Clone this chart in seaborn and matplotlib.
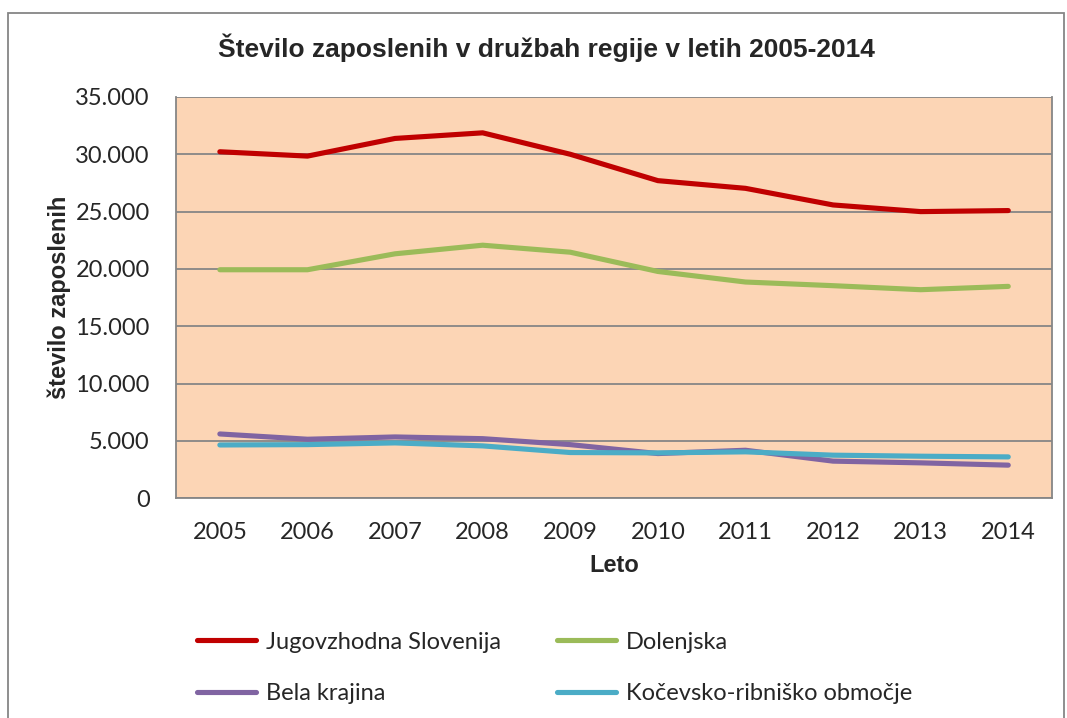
"""Število zaposlenih v družbah regije v letih 2005-2014."""

import matplotlib
matplotlib.use("Agg")

import matplotlib.pyplot as plt
import matplotlib.ticker as mticker
from matplotlib.patches import Rectangle
import pandas as pd
import seaborn as sns


years = [2005, 2006, 2007, 2008, 2009, 2010, 2011, 2012, 2013, 2014]
jugovzhodna = [30220, 29840, 31380, 31870, 30000, 27700, 27030, 25580, 25000, 25090]
dolenjska = [19930, 19930, 21320, 22070, 21460, 19780, 18860, 18540, 18190, 18480]
bela_krajina = [5610, 5150, 5350, 5200, 4680, 3900, 4190, 3240, 3090, 2890]
kocevsko = [4650, 4680, 4830, 4570, 3990, 3960, 4050, 3760, 3670, 3610]

series_names = ["Jugovzhodna Slovenija", "Dolenjska", "Bela krajina",
                "Kočevsko-ribniško območje"]
series_values = [jugovzhodna, dolenjska, bela_krajina, kocevsko]
colors = ["#C00000", "#9BBB59", "#8064A2", "#4BACC6"]


def build_dataframe():
    rows = []
    for name, values in zip(series_names, series_values):
        for i, (year, value) in enumerate(zip(years, values)):
            rows.append({"pos": i, "leto": year, "regija": name, "zaposleni": value})
    return pd.DataFrame(rows)


def main():
    sns.set_theme(style="white")
    plt.rcParams["font.family"] = ["Lato", "DejaVu Sans"]

    df = build_dataframe()

    fig = plt.figure(figsize=(10.67, 7.18), dpi=100)
    ax = fig.add_axes([0.165, 0.306, 0.821, 0.559])
    ax.set_facecolor("#FCD5B5")

    sns.lineplot(data=df, x="pos", y="zaposleni", hue="regija",
                 hue_order=series_names, palette=colors, linewidth=3.7,
                 ax=ax, legend=False)

    ax.set_xlim(-0.5, len(years) - 0.5)
    ax.set_ylim(0, 35000)
    ax.set_xticks(range(len(years)))
    ax.set_xticklabels([str(y) for y in years])
    ax.yaxis.set_major_locator(mticker.MultipleLocator(5000))
    ax.yaxis.set_major_formatter(
        mticker.FuncFormatter(lambda v, _: f"{int(v):,}".replace(",", ".")))
    ax.tick_params(axis="both", labelsize=17, length=0)
    ax.tick_params(axis="x", pad=17)
    ax.tick_params(axis="y", pad=19)
    ax.grid(axis="y", color="#868686", linewidth=1.3)
    ax.set_axisbelow(True)
    for side in ["left", "bottom", "right"]:
        ax.spines[side].set_color("#868686")
        ax.spines[side].set_linewidth(1.3)
    ax.spines["top"].set_visible(False)

    ax.set_xlabel("Leto", fontsize=17, fontweight="bold",
                  family="Liberation Sans", labelpad=8)
    ax.set_ylabel("število zaposlenih", fontsize=17, fontweight="bold",
                  family="Liberation Sans", labelpad=3)

    fig.text(0.512, 0.934, "Število zaposlenih v družbah regije v letih 2005-2014",
             ha="center", va="center", fontsize=19, fontweight="bold",
             family="Liberation Sans")

    # outer chart border
    fig.patches.append(Rectangle((8 / 1067, -0.05), 1056 / 1067, 1.05 - 13 / 718,
                                 transform=fig.transFigure, fill=False,
                                 edgecolor="#868686", linewidth=1.3))

    lines = ax.get_lines()
    order = [0, 2, 1, 3]
    fig.legend([lines[i] for i in order], [series_names[i] for i in order],
               ncol=2, loc="upper left", bbox_to_anchor=(0.165, 0.15),
               frameon=False, fontsize=17, handlelength=2.5, handletextpad=0.4,
               columnspacing=2.4, labelspacing=1.3)

    fig.savefig("out.png", dpi=100, facecolor="white")
    plt.close(fig)


if __name__ == "__main__":
    main()
